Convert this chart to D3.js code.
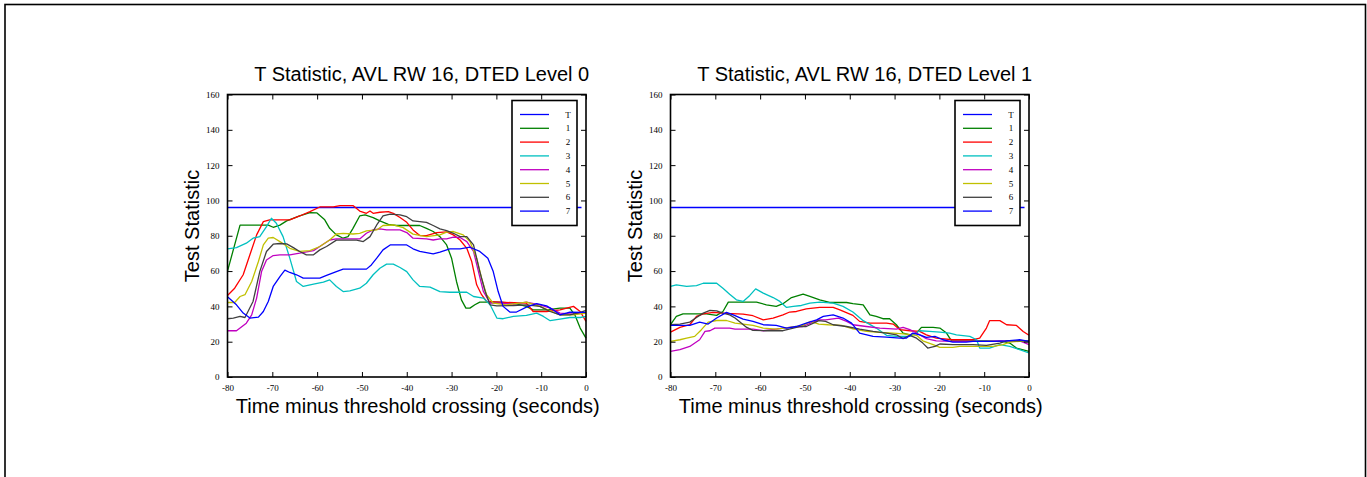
<!DOCTYPE html>
<html>
<head>
<meta charset="utf-8">
<script src="https://cdn.jsdelivr.net/npm/d3@7"></script>
<style>
html,body{margin:0;padding:0;background:#fff;}
svg{display:block;}
</style>
</head>
<body>
<svg id="chart" width="1367" height="477"></svg>
<script>
// ---------- data ----------
const titles = ["T Statistic, AVL RW 16, DTED Level 0", "T Statistic, AVL RW 16, DTED Level 1"];
const yLabel = "Test Statistic";
const xLabel = "Time minus threshold crossing (seconds)";
const legendLabels = ["T", "1", "2", "3", "4", "5", "6", "7"];
const seriesColors = ["#0000ff", "#008000", "#ff0000", "#00c0c0", "#c000c0", "#c0c000", "#404040", "#0000ff"];
const xTicks = [-80, -70, -60, -50, -40, -30, -20, -10, 0];
const yTicks = [0, 20, 40, 60, 80, 100, 120, 140, 160];
const thresholdValue = 96;
const thresholdSpan = [-80, -1];

// Level 0 series: [time, statistic]
const L0_s1 = [[-80,60],[-77.2,86],[-70.9,86],[-69.8,84.8],[-68.3,86],[-66.8,88.4],[-63.9,91.2],[-61.6,93.1],[-60.1,93],[-58.3,89],[-57.2,84.2],[-55.7,80.5],[-54.2,78.6],[-53.1,79.5],[-52,84.2],[-50.5,91.2],[-49.3,91.8],[-47.5,90.3],[-46,88.4],[-44.1,86.5],[-42.3,85.8],[-37.1,85.8],[-35.6,84.2],[-34.1,82.4],[-32.6,79.5],[-31.1,74.8],[-30,67.3],[-28.9,54.1],[-27.8,43.7],[-26.8,39],[-25.9,39],[-24.8,40.9],[-23.7,42.4],[-19.2,42.4],[-16.2,41.8],[-13.3,40],[-11.8,38],[-8.8,38],[-5.8,39],[-3.6,39],[-2.5,35.2],[-1.3,27.7],[0,22]];
const L0_s2 = [[-80,46.2],[-78.4,50.3],[-76.5,57.9],[-75,69.2],[-73.5,80.5],[-72,88],[-70.6,89],[-66.1,89],[-63.9,91.2],[-61.6,93.7],[-59.4,96.3],[-56.4,96.3],[-54.9,97.1],[-52,97.1],[-50.5,94],[-49,92.7],[-48.2,94],[-47.5,92.7],[-46,93.3],[-44.1,93.7],[-43,92.7],[-41.5,90.3],[-40,87.6],[-38.6,83.3],[-37.1,80.1],[-35.6,80.1],[-33.3,81.8],[-31.1,82.2],[-29.6,80.5],[-28.1,77.6],[-26.6,72.9],[-25.5,65.4],[-24.4,52.2],[-23.3,46.6],[-22.2,42.8],[-19.2,42.4],[-13.3,41.8],[-11.8,37.1],[-8.8,37.1],[-5.8,38],[-2.8,40],[-1.3,37.1],[0,31.5]];
const L0_s3 = [[-80,72.6],[-78,73.3],[-75.8,75.8],[-74.3,78.6],[-72.8,79.5],[-71.3,85.2],[-70.2,89.9],[-69.1,87.1],[-67.6,79.5],[-66.1,67.3],[-64.6,54.1],[-63.1,51.3],[-60.8,52.6],[-58.6,53.7],[-57.2,55],[-55.7,51.3],[-54.2,48.4],[-52.7,48.8],[-50.5,50.3],[-49,53.1],[-47.5,57.9],[-46,61.6],[-44.5,63.9],[-43,63.9],[-41.5,62],[-40,59.7],[-38.6,55],[-37.1,51.3],[-34.8,50.9],[-32.6,48.4],[-30.4,48],[-26.6,48],[-25.1,45.6],[-22.9,44.7],[-21.4,40.9],[-19.9,33.4],[-18.5,33],[-16.2,34.3],[-13.3,34.9],[-11,36.2],[-9.5,34.3],[-8,31.9],[-5.8,32.8],[-3.6,33.7],[-1.3,33.7],[0,34.3]];
const L0_s4 = [[-80,26.2],[-78,26.2],[-75.8,30.5],[-74.6,35.2],[-73.5,44.7],[-72.4,59.7],[-71.3,66.3],[-69.8,68.8],[-68.3,69.2],[-66.1,69.2],[-63.9,70.1],[-60.8,71.6],[-59.4,73.9],[-57.2,77.6],[-55.7,78.2],[-50.5,78.2],[-49,81.4],[-47.5,83.3],[-46,83.9],[-44.5,83.3],[-41.5,83.3],[-40,81.8],[-38.6,78.6],[-35.6,78.2],[-34.1,77.6],[-32.6,78.2],[-31.1,78.2],[-29.6,79.2],[-28.1,79],[-26.6,76.7],[-25.1,71.1],[-24,59.7],[-22.9,48.4],[-21.4,41.8],[-19.2,41.8],[-16.2,41.3],[-13.3,42.4],[-10.3,40.9],[-8,39],[-5.8,36.2],[-2.8,35.6],[-1.3,36.2],[0,36.6]];
const L0_s5 = [[-80,42.2],[-78.4,42.2],[-77.2,45.6],[-76.1,46.6],[-74.6,54.1],[-73.1,65.4],[-72,74.8],[-70.9,78.6],[-69.8,79],[-68.3,76.7],[-66.1,72.9],[-63.9,71.1],[-61.6,71.6],[-59.4,73.9],[-57.2,77.6],[-55.7,81],[-54.2,81.4],[-52,81],[-50.5,81.4],[-49,82.8],[-46.7,83.3],[-45.3,85.8],[-43,86.1],[-40.8,84.6],[-38.6,80.9],[-35.6,79.5],[-32.6,80.5],[-31.1,82],[-29.6,82.4],[-27.4,80.5],[-25.9,76.7],[-24.4,67.3],[-23.3,56],[-22.2,46.6],[-20.7,41.8],[-17.8,40.9],[-13.3,42.4],[-10.3,40],[-8,37.5],[-5.8,35.2],[-2.8,35.2],[0,36.2]];
const L0_s6 = [[-80,33],[-78.7,33.4],[-77.2,34.3],[-76.1,33.7],[-74.3,42.8],[-72.8,59.7],[-71.3,71.1],[-69.8,75.2],[-68.3,75.6],[-66.8,75.4],[-65.3,73.3],[-63.9,71.1],[-62.4,69.2],[-60.8,69.2],[-59.4,72],[-57.9,73.9],[-55.7,77.5],[-51.2,77.5],[-49.7,76.7],[-48.2,79.5],[-46.7,86.1],[-45.3,91.2],[-43.7,92.3],[-41.5,91.8],[-40,90.8],[-38.6,88.4],[-37.1,88],[-35.6,87.6],[-34.1,85.8],[-32.6,83.9],[-31.1,82.9],[-29.6,81.4],[-28.1,79.5],[-26.6,79.5],[-25.1,74.8],[-23.7,59.7],[-22.5,48.4],[-21.4,40.9],[-19.9,40.3],[-16.2,40.5],[-13.3,40.9],[-10.3,40],[-8,37.1],[-5.8,35.2],[-3.6,35.2],[-1.3,36.6],[0,37.7]];
const L0_s7 = [[-80,45.4],[-78,40.9],[-76.5,36.2],[-75,33.4],[-73.1,33.9],[-72,37.1],[-70.9,42.8],[-69.8,51.3],[-68.3,56.9],[-67.2,60.5],[-66.1,59.2],[-64.6,57.9],[-63.1,56],[-59.4,56],[-57.9,57.5],[-55.7,59.7],[-54.2,61.1],[-49,61.1],[-47.9,63.5],[-46.7,67.3],[-45.3,72],[-43.7,74.8],[-40,74.8],[-38.6,72.6],[-37.1,71.1],[-34.1,69.7],[-32.6,70.7],[-30.4,72.6],[-28.1,72.6],[-25.9,73.5],[-23.7,71.1],[-21.9,67.3],[-20.7,59.7],[-19.6,48.4],[-18.5,40],[-17,36.8],[-15.5,36.8],[-13.3,39.6],[-11,41.5],[-8.8,40.3],[-7.3,38],[-5.8,35.2],[-3.6,36.8],[0,36.6]];

// Level 1 series: [time, statistic]
const L1_s1 = [[-80,29.6],[-78.7,34.3],[-77.2,35.8],[-72,35.8],[-69.7,34.9],[-68.3,37.1],[-67.1,42.4],[-60.8,42.4],[-58.6,40.9],[-56.4,40],[-54.9,41.5],[-53,45],[-50.4,46.9],[-48.9,45.6],[-46.7,43.7],[-44.5,42.2],[-40.7,42.2],[-39.3,41.5],[-37,40.9],[-35.5,35.2],[-34.1,34.3],[-32.6,33],[-31.1,33],[-29.6,29.6],[-28.1,24.9],[-26.6,23.9],[-25.1,24.9],[-24,28.1],[-21.4,28.1],[-19.9,27.7],[-18.4,24.9],[-17.3,20.5],[-9.5,20.5],[-5.8,20.2],[-4.3,19.2],[-2.8,16.4],[0,14.5]];
const L1_s2 = [[-80,25.4],[-77.9,28.1],[-75.7,29.6],[-74.2,34.3],[-72.7,35.8],[-70.5,36.6],[-67.5,36],[-63.8,35.6],[-61.6,34.7],[-59.3,32.4],[-57.1,33.4],[-54.9,35.2],[-53.4,36.8],[-51.9,37.1],[-49.7,38.6],[-46.7,39.4],[-43.7,39.4],[-42.2,38],[-39.3,34.9],[-37.8,31.5],[-35.5,30.5],[-31.8,30.5],[-30.3,30],[-28.8,26.8],[-26.6,26.2],[-24.4,25.8],[-22.9,23.9],[-20.7,22],[-17,21.1],[-12.5,21.1],[-11,22],[-9.5,27.7],[-8.8,31.9],[-6.5,31.9],[-5,29.6],[-2.8,29.2],[-1.3,25.8],[0,23.6]];
const L1_s3 = [[-80,51.3],[-78.7,52.2],[-76.4,51.3],[-74.2,51.8],[-72.7,53.1],[-69.7,53.1],[-68.3,50.3],[-66.8,46.9],[-65.3,43.7],[-63.8,42.8],[-62.3,46.2],[-61,49.9],[-59.3,47.5],[-57.1,45],[-55.6,42.8],[-54.1,39.4],[-52.6,40],[-50.8,40.5],[-48.9,41.8],[-46.7,42.4],[-43.7,41.8],[-41.5,40],[-39.3,36.8],[-37,31.9],[-34.1,27.7],[-31.8,23.6],[-29.6,23],[-26.6,23],[-24.4,26.2],[-22.2,25.8],[-19.9,25.4],[-17.7,24.9],[-16.2,23.9],[-13.2,23],[-11.7,21.1],[-11,16.4],[-8.8,16.4],[-6.5,18.3],[-4.3,17.3],[-2.1,15.5],[0,13.6]];
const L1_s4 = [[-80,14.5],[-77.9,15.5],[-75.7,17.3],[-73.5,21.1],[-72.3,25.8],[-71.2,26.2],[-70.1,27.7],[-66.8,27.7],[-65.6,27.1],[-61.6,27.1],[-59.3,26.2],[-56.4,27.1],[-53.4,28.1],[-50.5,28.6],[-48.7,30.5],[-46.9,32.4],[-45.4,32.4],[-42.5,33.4],[-40.7,31.5],[-39.3,29.6],[-36.3,28.6],[-33.3,27.7],[-29.6,27.1],[-28.1,28.1],[-26.6,26.8],[-25.1,24.9],[-22.9,21.7],[-20.7,20.5],[-17,20.2],[-9.5,20.2],[-6.5,20.5],[-2.1,20.5],[-0.8,19.2],[0,18.3]];
const L1_s5 = [[-80,20.2],[-77.9,21.1],[-76.4,22],[-74.6,23],[-73.1,26.8],[-71.6,31.1],[-69.7,32],[-67.5,32],[-65.6,30.5],[-63.8,30],[-61.6,29.2],[-59.3,27.7],[-56.4,27.1],[-53.4,28.1],[-50.5,29.2],[-48.7,31.5],[-46.9,30],[-44.8,29.6],[-41.8,29.2],[-39.3,27.3],[-36.3,25.8],[-33.3,25.3],[-30.3,24.9],[-27.4,24.3],[-25.1,23.6],[-23.7,20.5],[-21.4,18.3],[-19.9,16.8],[-17,16.8],[-15.5,17.3],[-8,17.3],[-5.8,18.3],[-4.3,19.8],[-2.1,20.2],[0,20.2]];
const L1_s6 = [[-80,29.6],[-77.9,30],[-75.7,31.1],[-74.2,33.7],[-72.7,36.2],[-71.2,37.7],[-69.7,37.5],[-68.3,36.2],[-66.8,35.2],[-65.6,33.4],[-64.5,31.1],[-63,28.1],[-61.6,26.4],[-58.6,26.2],[-54.9,26.2],[-52.6,27.7],[-51.2,28.6],[-49.7,28.6],[-46.9,31.9],[-45.4,31.5],[-43.7,29.6],[-40.7,28.6],[-37.8,27.1],[-34.8,25.8],[-31.8,24.9],[-29.6,23.9],[-28.1,21.7],[-26.6,23.6],[-25.1,22],[-23.7,19.2],[-22.6,16.4],[-21,17.3],[-19.9,18.7],[-17,18.3],[-12.5,18.3],[-9.5,17.9],[-6.5,19.2],[-5,20.5],[0,20.5]];
const L1_s7 = [[-80,29.2],[-75.7,29.2],[-73.5,31.1],[-71.6,30],[-69.7,33.4],[-67.5,36.6],[-66,35.2],[-63.8,32.8],[-61.6,31.5],[-59.3,29.6],[-56.4,29.2],[-54.1,27.7],[-51.9,28.6],[-49.7,30.5],[-47.4,32.4],[-45.9,34.3],[-43.7,35.2],[-41.5,33.4],[-39.6,30.5],[-37.8,24.9],[-34.8,23],[-31.8,22.6],[-28.8,22],[-27.4,22],[-25.9,24.9],[-24.4,23.9],[-22.9,22.4],[-21,23],[-19.2,21.1],[-17,19.8],[-14,19.8],[-12.5,20.2],[-8,20.2],[-5,20.5],[-2.1,21.1],[0,20.2]];

const panels = [
  { title: titles[0], series: [L0_s1, L0_s2, L0_s3, L0_s4, L0_s5, L0_s6, L0_s7] },
  { title: titles[1], series: [L1_s1, L1_s2, L1_s3, L1_s4, L1_s5, L1_s6, L1_s7] }
];

// ---------- layout ----------
const svg = d3.select("#chart");
svg.append("rect").attr("x", 5).attr("y", 4.5).attr("width", 1360.5).attr("height", 500)
  .attr("fill", "none").attr("stroke", "#000").attr("stroke-width", 1.6);

const panelLeft = [227.5, 670.5];
const plotW = 358.5, plotTop = 94.5, plotH = 282.5;
const sansFont = "'Liberation Sans', Arial, sans-serif";
const serifFont = "'Liberation Serif', 'Times New Roman', serif";
const fmt = d => String(d);

panels.forEach((p, pi) => {
  const x0 = panelLeft[pi];
  const g = svg.append("g").attr("transform", `translate(${x0},${plotTop})`);
  const x = d3.scaleLinear().domain([-80, 0]).range([0, plotW]);
  const y = d3.scaleLinear().domain([0, 160]).range([plotH, 0]);

  // series lines
  const line = d3.line().x(d => x(d[0])).y(d => y(d[1]));
  g.append("line")
    .attr("x1", x(thresholdSpan[0])).attr("x2", x(thresholdSpan[1]))
    .attr("y1", y(thresholdValue)).attr("y2", y(thresholdValue))
    .attr("stroke", seriesColors[0]).attr("stroke-width", 1.3);
  p.series.forEach((s, si) => {
    g.append("path").datum(s).attr("d", line).attr("fill", "none")
      .attr("stroke", seriesColors[si + 1]).attr("stroke-width", 1.3)
      .attr("stroke-linejoin", "round");
  });

  // axes with inward ticks
  const bottom = g.append("g").attr("transform", `translate(0,${plotH})`)
    .call(d3.axisBottom(x).tickValues(xTicks).tickSize(-5).tickPadding(8).tickFormat(fmt));
  const top = g.append("g").call(d3.axisTop(x).tickValues(xTicks).tickSize(-5).tickFormat(""));
  const left = g.append("g")
    .call(d3.axisLeft(y).tickValues(yTicks).tickSize(-5).tickPadding(8).tickFormat(fmt));
  const right = g.append("g").attr("transform", `translate(${plotW},0)`)
    .call(d3.axisRight(y).tickValues(yTicks).tickSize(-5).tickFormat(""));
  [bottom, top, left, right].forEach(a => {
    a.select(".domain").remove();
    a.selectAll(".tick line").attr("stroke", "#000").attr("stroke-width", 1);
    a.selectAll("text").attr("font-family", serifFont).attr("font-size", 9).attr("fill", "#000");
  });
  bottom.selectAll("text").attr("dy", "0.71em");
  g.append("rect").attr("x", 0).attr("y", 0).attr("width", plotW).attr("height", plotH)
    .attr("fill", "none").attr("stroke", "#000").attr("stroke-width", 1.6);

  // legend
  const lw = 65, lh = 125;
  const lx = plotW - 9 - lw, ly = 6;
  const lg = g.append("g").attr("transform", `translate(${lx},${ly})`);
  lg.append("rect").attr("width", lw).attr("height", lh).attr("fill", "#fff")
    .attr("stroke", "#000").attr("stroke-width", 1.6);
  legendLabels.forEach((lab, i) => {
    const yy = 14 + i * 13.8;
    lg.append("line").attr("x1", 8).attr("x2", 37).attr("y1", yy).attr("y2", yy)
      .attr("stroke", seriesColors[i]).attr("stroke-width", 1.3);
    lg.append("text").attr("x", 56).attr("y", yy).attr("dy", "0.35em")
      .attr("text-anchor", "middle").attr("font-family", serifFont).attr("font-size", 9)
      .attr("fill", "#000").text(lab);
  });

  // titles and labels
  svg.append("text").attr("x", x0 + plotW / 2 + 15).attr("y", 81)
    .attr("text-anchor", "middle").attr("font-family", sansFont).attr("font-size", 20)
    .text(p.title);
  svg.append("text").attr("transform", `translate(${x0 - 29},${226}) rotate(-90)`)
    .attr("text-anchor", "middle").attr("font-family", sansFont).attr("font-size", 20)
    .text(yLabel);
  svg.append("text").attr("x", x0 + plotW / 2 + 11).attr("y", 413)
    .attr("text-anchor", "middle").attr("font-family", sansFont).attr("font-size", 20)
    .text(xLabel);
});
</script>
</body>
</html>
